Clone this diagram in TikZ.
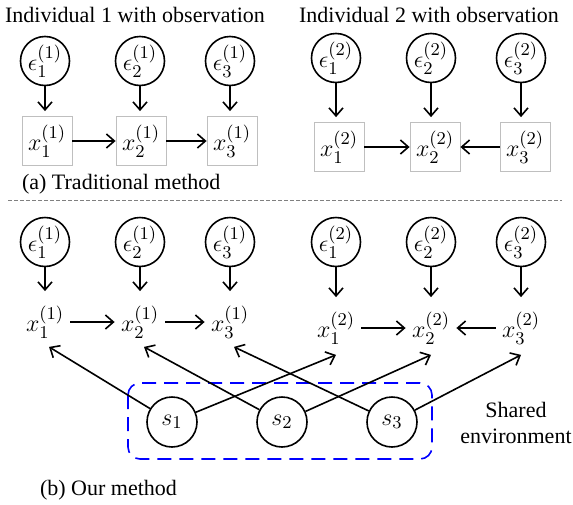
\documentclass[tikz,border=0pt]{standalone}
\usepackage{fontspec}
\setmainfont{Liberation Serif}
\usetikzlibrary{arrows.meta}

\begin{document}
\begin{tikzpicture}[x=0.5pt,y=-0.5pt,
  font=\fontsize{11}{13}\selectfont,
  epsnode/.style={circle,draw,thick,minimum size=24.5pt,inner sep=0pt,font=\fontsize{12.5}{14}\selectfont},
  obsbox/.style={draw=black!25,minimum width=25pt,minimum height=24.5pt,inner sep=0pt,font=\fontsize{12.5}{14}\selectfont},
  varnode/.style={minimum width=25pt,minimum height=24.5pt,inner sep=0pt,font=\fontsize{12.5}{14}\selectfont},
  envnode/.style={circle,draw,thick,minimum size=25pt,inner sep=0pt,font=\fontsize{12.5}{14}\selectfont},
  arr/.style={thick,-{Straight Barb[length=4pt,width=7pt]}},
  ]
\useasboundingbox (0,0) rectangle (573,504);

%% (a) traditional method
\node (title1) at (135,15) {Individual 1 with observation};
\node (title2) at (429,15) {Individual 2 with observation};

\node[epsnode] (ea11) at (45,61) {$\epsilon_1^{(1)}$};
\node[epsnode] (ea21) at (140,61) {$\epsilon_2^{(1)}$};
\node[epsnode] (ea31) at (230,61) {$\epsilon_3^{(1)}$};
\node[epsnode] (ea12) at (336,58) {$\epsilon_1^{(2)}$};
\node[epsnode] (ea22) at (431,58) {$\epsilon_2^{(2)}$};
\node[epsnode] (ea32) at (521,58) {$\epsilon_3^{(2)}$};

\node[obsbox] (xa11) at (47,141) {$x_1^{(1)}$};
\node[obsbox] (xa21) at (141,141) {$x_2^{(1)}$};
\node[obsbox] (xa31) at (232,141) {$x_3^{(1)}$};
\node[obsbox] (xa12) at (339,147) {$x_1^{(2)}$};
\node[obsbox] (xa22) at (435,147) {$x_2^{(2)}$};
\node[obsbox] (xa32) at (525,147) {$x_3^{(2)}$};

\foreach \i in {11,21,31,12,22,32}
  \draw[arr,shorten >=2.5pt] (ea\i) -- (ea\i |- xa\i.north);
\draw[arr] (xa11) -- (xa21);
\draw[arr] (xa21) -- (xa31);
\draw[arr] (xa12) -- (xa22);
\draw[arr] (xa32) -- (xa22);

\node[anchor=west] (capa) at (15,184) {(a) Traditional method};

\draw[black!50,dashed,dash pattern=on 2pt off 1pt] (8,200) -- (562,200);

%% (b) our method
\node[epsnode] (eb11) at (45,242) {$\epsilon_1^{(1)}$};
\node[epsnode] (eb21) at (140,242) {$\epsilon_2^{(1)}$};
\node[epsnode] (eb31) at (230,242) {$\epsilon_3^{(1)}$};
\node[epsnode] (eb12) at (336,242) {$\epsilon_1^{(2)}$};
\node[epsnode] (eb22) at (431,242) {$\epsilon_2^{(2)}$};
\node[epsnode] (eb32) at (521,242) {$\epsilon_3^{(2)}$};

\node[varnode] (xb11) at (45,322) {$x_1^{(1)}$};
\node[varnode] (xb21) at (140,322) {$x_2^{(1)}$};
\node[varnode] (xb31) at (230,322) {$x_3^{(1)}$};
\node[varnode] (xb12) at (336,328) {$x_1^{(2)}$};
\node[varnode] (xb22) at (431,328) {$x_2^{(2)}$};
\node[varnode] (xb32) at (521,328) {$x_3^{(2)}$};

\foreach \i in {11,21,31,12,22,32}
  \draw[arr,shorten >=3pt] (eb\i) -- (eb\i |- xb\i.north);
\draw[arr] (xb11) -- (xb21);
\draw[arr] (xb21) -- (xb31);
\draw[arr] (xb12) -- (xb22);
\draw[arr] (xb32) -- (xb22);

\node[envnode] (s1) at (172,422) {$s_1$};
\node[envnode] (s2) at (282,422) {$s_2$};
\node[envnode] (s3) at (392,422) {$s_3$};
\draw[blue,thick,dashed,dash pattern=on 7pt off 4pt,rounded corners=6pt]
  (128,383) rectangle (432,459);

\draw[arr] (s1) -- ([xshift=2pt]xb11.south);
\draw[arr] (s1) -- ([yshift=-1pt]xb12.south);
\draw[arr] (s2) -- ([xshift=2pt]xb21.south);
\draw[arr] (s2) -- ([yshift=-1pt]xb22.south);
\draw[arr] (s3) -- ([xshift=2pt]xb31.south);
\draw[arr] (s3) -- ([yshift=-1pt]xb32.south);

\node[align=center] (envlabel) at (516,423) {Shared\\environment};
\node[anchor=west] (capb) at (33,490) {(b) Our method};
\end{tikzpicture}
\end{document}
